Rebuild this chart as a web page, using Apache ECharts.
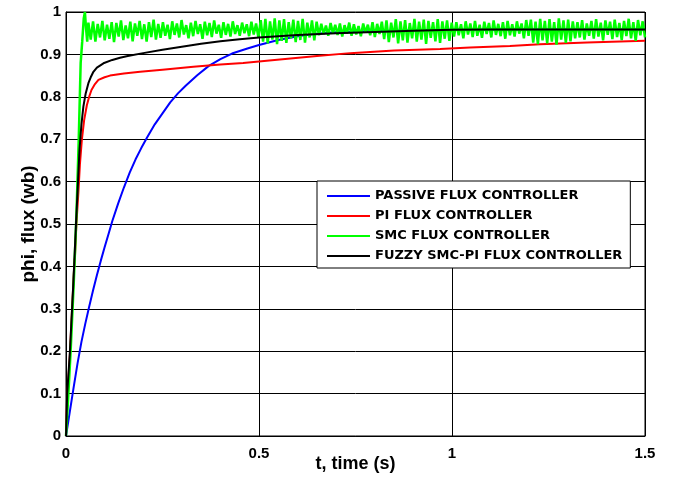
<!DOCTYPE html>
<html>
<head>
<meta charset="utf-8">
<script src="https://cdn.jsdelivr.net/npm/echarts@6/dist/echarts.min.js"></script>
<style>
  html, body { margin: 0; padding: 0; background: #fff; }
  #chart { width: 673px; height: 477px; }
</style>
</head>
<body>
<div id="chart"></div>
<script>
// ejes
let xTicks = [0, 0.5, 1, 1.5];
let yTicks = [0, 0.1, 0.2, 0.3, 0.4, 0.5, 0.6, 0.7, 0.8, 0.9, 1];
let nombres = ['PASSIVE FLUX CONTROLLER', 'PI FLUX CONTROLLER', 'SMC FLUX CONTROLLER', 'FUZZY SMC-PI FLUX CONTROLLER'];

/** Controlador pasivo (azul) */
let tPassive = [0, 0.01, 0.02, 0.03, 0.04, 0.05, 0.06, 0.07, 0.08, 0.09, 0.1, 0.11, 0.12, 0.135, 0.15, 0.165, 0.18, 0.195, 0.21, 0.23, 0.25, 0.27, 0.29, 0.31, 0.34, 0.37, 0.4, 0.43, 0.47, 0.5, 0.55, 0.6, 0.65, 0.7, 0.8, 0.9, 1.0, 1.2, 1.5];
let vPassive = [0, 0.058, 0.116, 0.172, 0.222, 0.265, 0.305, 0.343, 0.379, 0.413, 0.445, 0.476, 0.507, 0.548, 0.586, 0.621, 0.652, 0.679, 0.704, 0.735, 0.761, 0.787, 0.808, 0.826, 0.851, 0.873, 0.889, 0.902, 0.914, 0.922, 0.934, 0.943, 0.949, 0.952, 0.955, 0.957, 0.958, 0.959, 0.959];

/** Controlador PI (rojo) */
let tPI = [0, 0.003, 0.01, 0.019, 0.022, 0.023, 0.027, 0.032, 0.036, 0.041, 0.047, 0.054, 0.06, 0.066, 0.075, 0.084, 0.1, 0.114, 0.15, 0.192, 0.25, 0.33, 0.4, 0.459, 0.554, 0.65, 0.736, 0.85, 0.969, 1.047, 1.15, 1.228, 1.35, 1.5];
let vPI = [0, 0.09, 0.19, 0.36, 0.415, 0.42, 0.5, 0.573, 0.64, 0.698, 0.745, 0.78, 0.8, 0.816, 0.83, 0.84, 0.846, 0.85, 0.855, 0.859, 0.864, 0.871, 0.876, 0.88, 0.888, 0.896, 0.903, 0.909, 0.913, 0.916, 0.92, 0.924, 0.928, 0.932];

/** SMC (verde): subida y luego oscilacion */
let tSmcRise = [0, 0.005, 0.012, 0.02, 0.027, 0.033, 0.038, 0.042, 0.046, 0.049, 0.052, 0.055];
let vSmcRise = [0, 0.08, 0.2, 0.36, 0.52, 0.7, 0.88, 0.93, 0.985, 1.0, 0.96, 0.93];
let tSmcRippleStart = 0.058;
let tSmcRippleEnd = 1.5;
let vSmcRipple = [
    0.975, 0.935, 0.978, 0.930, 0.972, 0.940, 0.979, 0.933, 0.970, 0.937, 0.976, 0.929, 0.974, 0.942, 0.980, 0.934, 0.968, 0.938, 0.977, 0.931, 0.973, 0.944, 0.979, 0.936, 0.971, 0.930, 0.976, 0.941, 0.982, 0.935, 0.972,
    0.939, 0.976, 0.944, 0.970, 0.936, 0.978, 0.946, 0.973, 0.940, 0.981, 0.947, 0.969, 0.938, 0.975, 0.943, 0.979, 0.948, 0.971, 0.937, 0.977, 0.945, 0.974, 0.941, 0.980, 0.949, 0.970, 0.939, 0.976, 0.946, 0.972, 0.942, 0.978, 0.948, 0.969, 0.944, 0.975, 0.950, 0.971, 0.943, 0.977, 0.947, 0.973, 0.940,
    0.981, 0.930, 0.984, 0.926, 0.978, 0.935, 0.985, 0.924, 0.980, 0.932, 0.983, 0.927, 0.976, 0.938, 0.982, 0.929, 0.979, 0.934, 0.984, 0.928, 0.975, 0.940, 0.980, 0.933, 0.977,
    0.945, 0.972, 0.948, 0.968, 0.944, 0.974, 0.950, 0.970, 0.946, 0.973, 0.942, 0.969, 0.949, 0.975, 0.944, 0.971, 0.947, 0.967, 0.943, 0.973, 0.951, 0.970, 0.945, 0.976, 0.941, 0.972, 0.948, 0.977,
    0.936, 0.980, 0.929, 0.975, 0.940, 0.983, 0.926, 0.978, 0.933, 0.981, 0.928, 0.974, 0.938, 0.984, 0.930, 0.977, 0.935, 0.982, 0.925, 0.979, 0.939, 0.976, 0.931, 0.983, 0.927, 0.978, 0.937, 0.980, 0.932, 0.975,
    0.942, 0.976, 0.945, 0.971, 0.938, 0.978, 0.947, 0.973, 0.941, 0.979, 0.944, 0.970, 0.939, 0.977, 0.948, 0.974, 0.940, 0.980, 0.946, 0.972, 0.943, 0.976, 0.937, 0.979, 0.945, 0.971, 0.942, 0.978, 0.949, 0.973, 0.938, 0.981, 0.944,
    0.982, 0.928, 0.977, 0.924, 0.984, 0.933, 0.979, 0.926, 0.983, 0.930, 0.976, 0.923, 0.985, 0.935, 0.980, 0.927, 0.982, 0.931, 0.978, 0.938,
    0.976, 0.940, 0.981, 0.935, 0.973, 0.944, 0.979, 0.937, 0.983, 0.942, 0.975, 0.933, 0.980, 0.946, 0.977, 0.936, 0.982, 0.941, 0.974, 0.934, 0.979, 0.943, 0.984, 0.938, 0.976, 0.932, 0.981, 0.945, 0.978, 0.940
];

/** Fuzzy SMC-PI (negro) */
let tFuzzy = [0, 0.003, 0.01, 0.019, 0.026, 0.035, 0.04, 0.045, 0.051, 0.058, 0.065, 0.071, 0.08, 0.097, 0.12, 0.14, 0.16, 0.2, 0.25, 0.3, 0.35, 0.4, 0.45, 0.5, 0.55, 0.6, 0.7, 0.8, 0.9, 1.0, 1.1, 1.5];
let vFuzzy = [0, 0.1, 0.196, 0.36, 0.502, 0.675, 0.735, 0.777, 0.808, 0.832, 0.848, 0.859, 0.869, 0.879, 0.887, 0.892, 0.896, 0.903, 0.911, 0.918, 0.925, 0.931, 0.936, 0.94, 0.943, 0.946, 0.95, 0.953, 0.956, 0.958, 0.959, 0.959];

function pares(ts, vs) {
    let out = [];
    for (let i = 0; i < ts.length; i++) out.push([ts[i], vs[i]]);
    return out;
}

// la parte oscilante se muestrea en una rejilla uniforme de tiempo
let smcData = pares(tSmcRise, vSmcRise);
let paso = (tSmcRippleEnd - tSmcRippleStart) / (vSmcRipple.length - 1);
for (let i = 0; i < vSmcRipple.length; i++) {
    smcData.push([tSmcRippleStart + i * paso, vSmcRipple[i]]);
}

let fuente = '"Liberation Sans", Arial, sans-serif';

let chart = echarts.init(document.getElementById('chart'), null, { renderer: 'canvas' });

function serie(nombre, color, data, ancho) {
    return {
        name: nombre,
        type: 'line',
        data: data,
        symbol: 'none',
        clip: true,
        lineStyle: { color: color, width: ancho },
        itemStyle: { color: color }
    };
}

let option = {
    animation: false,
    backgroundColor: '#fff',
    grid: {
        left: 66,
        top: 12,
        right: 28,
        bottom: 41,
        outerBoundsMode: 'none',
        show: true,
        borderColor: '#000',
        borderWidth: 1
    },
    legend: {
        data: nombres,
        orient: 'vertical',
        left: 317,
        top: 181,
        padding: [8, 8, 5, 10],
        itemGap: 6,
        itemWidth: 43,
        itemHeight: 2,
        icon: 'rect',
        borderColor: '#000',
        borderWidth: 1,
        backgroundColor: '#fff',
        textStyle: { fontFamily: '"DejaVu Sans", sans-serif', fontWeight: 'bold', fontSize: 13, lineHeight: 14, color: '#000' }
    },
    xAxis: {
        type: 'value',
        min: 0,
        max: 1.5,
        interval: 0.5,
        name: 't, time (s)',
        nameLocation: 'middle',
        nameGap: 19,
        nameMoveOverlap: false,
        nameTextStyle: { fontFamily: fuente, fontWeight: 'bold', fontSize: 18, color: '#000' },
        axisLine: { show: true, lineStyle: { color: '#000', width: 1 } },
        axisTick: { show: false },
        axisLabel: {
            fontFamily: fuente, fontWeight: 'bold', fontSize: 15, color: '#000', margin: 10,
            formatter: function (v) { return xTicks.indexOf(v) >= 0 ? String(v) : ''; }
        },
        splitLine: { show: true, lineStyle: { color: '#000', width: 1, type: 'solid' } }
    },
    yAxis: {
        type: 'value',
        min: 0,
        max: 1,
        interval: 0.1,
        name: 'phi, flux (wb)',
        nameLocation: 'middle',
        nameGap: 28,
        nameMoveOverlap: false,
        nameTextStyle: { fontFamily: fuente, fontWeight: 'bold', fontSize: 19, color: '#000' },
        axisLine: { show: true, lineStyle: { color: '#000', width: 1 } },
        axisTick: { show: false },
        axisLabel: {
            fontFamily: fuente, fontWeight: 'bold', fontSize: 15, color: '#000', margin: 5,
            formatter: function (v) {
                let r = Math.round(v * 10) / 10;
                return yTicks.indexOf(r) >= 0 ? String(r) : '';
            }
        },
        splitLine: { show: true, lineStyle: { color: '#000', width: 1, type: 'solid' } }
    },
    series: [
        serie(nombres[0], '#0000ff', pares(tPassive, vPassive), 2),
        serie(nombres[1], '#ff0000', pares(tPI, vPI), 2),
        serie(nombres[2], '#00ff00', smcData, 2.5),
        serie(nombres[3], '#000000', pares(tFuzzy, vFuzzy), 2)
    ]
};

option && chart.setOption(option);
</script>
</body>
</html>
